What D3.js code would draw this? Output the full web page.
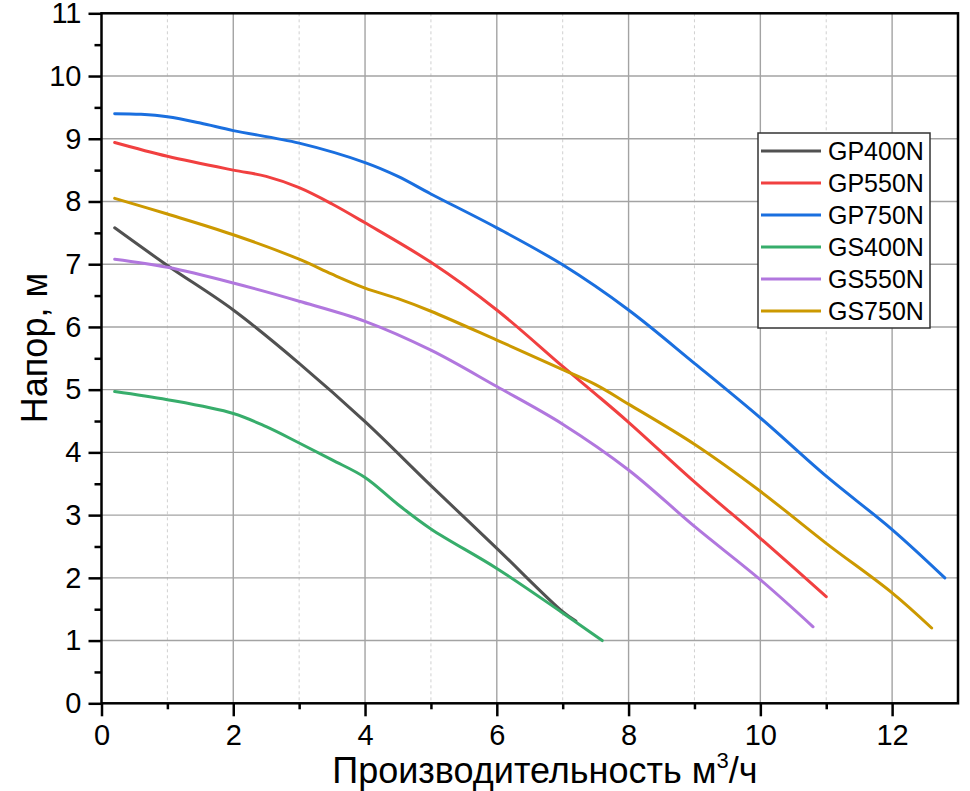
<!DOCTYPE html>
<meta charset="utf-8">
<style>
body { margin: 0; background: #fff; }
text { font-family: "Liberation Sans", Arial, sans-serif; fill: #000; }
.grid line { stroke: #a3a3a3; stroke-width: 1.4px; }
.grid .minor { stroke: #d0d0d0; stroke-dasharray: 3,3; stroke-width: 1px; }
.axis path, .axis line { stroke: #000; stroke-width: 2.5px; }
.axis text { font-size: 29px; }
.line { fill: none; stroke-width: 3px; stroke-linejoin: round; stroke-linecap: round; }
</style>
<body>
<script src="https://d3js.org/d3.v7.min.js"></script>
<script>

// series names and colours
var names = ["GP400N", "GP550N", "GP750N", "GS400N", "GS550N", "GS750N"];
var colors = ["#515151", "#F14040", "#1A6FDF", "#37AD6B", "#B177DE", "#CC9900"];

// flow (m3/h) and head (m)
var gp400x = [0.2, 1, 2, 3, 4, 5, 6, 7, 7.2];
var gp400y = [7.58, 6.98, 6.27, 5.42, 4.49, 3.47, 2.47, 1.46, 1.31];

var gp550x = [0.2, 1, 2, 2.5, 3, 3.5, 4, 5, 6, 7, 7.5, 8, 9, 10, 11];
var gp550y = [8.94, 8.72, 8.5, 8.4, 8.22, 7.96, 7.66, 7.03, 6.27, 5.37, 4.93, 4.48, 3.53, 2.63, 1.7];

var gp750x = [0.2, 0.6, 1, 1.5, 2, 3, 4, 4.5, 5, 6, 7, 8, 9, 10, 11, 12, 12.8];
var gp750y = [9.4, 9.39, 9.35, 9.25, 9.13, 8.93, 8.62, 8.4, 8.12, 7.58, 6.99, 6.27, 5.42, 4.55, 3.62, 2.77, 2.0];

var gs400x = [0.2, 1, 2, 2.5, 3, 3.5, 4, 4.5, 5, 6, 7, 7.6];
var gs400y = [4.97, 4.84, 4.62, 4.41, 4.15, 3.88, 3.6, 3.17, 2.78, 2.15, 1.44, 1.0];

var gs550x = [0.2, 1, 2, 3, 4, 5, 6, 7, 8, 9, 10, 10.8];
var gs550y = [7.08, 6.95, 6.7, 6.41, 6.09, 5.63, 5.05, 4.45, 3.72, 2.82, 1.97, 1.22];

var gs750x = [0.2, 1, 2, 3, 3.5, 4, 4.5, 5, 6, 7, 7.5, 8, 9, 10, 11, 12, 12.6];
var gs750y = [8.05, 7.8, 7.47, 7.08, 6.84, 6.62, 6.45, 6.25, 5.79, 5.32, 5.08, 4.77, 4.13, 3.38, 2.55, 1.76, 1.2];

var xTicks = [0, 2, 4, 6, 8, 10, 12];
var xMinor = [1, 3, 5, 7, 9, 11];
var yTicks = [0, 1, 2, 3, 4, 5, 6, 7, 8, 9, 10, 11];
var yMinor = [0.5, 1.5, 2.5, 3.5, 4.5, 5.5, 6.5, 7.5, 8.5, 9.5, 10.5];

var seriesX = [gp400x, gp550x, gp750x, gs400x, gs550x, gs750x];
var seriesY = [gp400y, gp550y, gp750y, gs400y, gs550y, gs750y];

var margin = {top: 13.3, right: 12, bottom: 87.7, left: 101.5},
    width = 970 - margin.left - margin.right,
    height = 791 - margin.top - margin.bottom;

var x = d3.scaleLinear().domain([0, 13]).range([0, width]);
var y = d3.scaleLinear().domain([0, 11]).range([height, 0]);

var svg = d3.select("body").append("svg")
    .attr("width", 970)
    .attr("height", 791)
  .append("g")
    .attr("transform", "translate(" + margin.left + "," + margin.top + ")");

// grid
var grid = svg.append("g").attr("class", "grid");
grid.selectAll(".vmin").data(xMinor).enter().append("line")
    .attr("class", "minor")
    .attr("x1", function(d) { return x(d); }).attr("x2", function(d) { return x(d); })
    .attr("y1", 0).attr("y2", height);
grid.selectAll(".vmaj").data(xTicks.filter(function(d) { return d > 0; })).enter().append("line")
    .attr("x1", function(d) { return x(d); }).attr("x2", function(d) { return x(d); })
    .attr("y1", 0).attr("y2", height);
grid.selectAll(".hmaj").data(yTicks.filter(function(d) { return d > 0 && d < 11; })).enter().append("line")
    .attr("x1", 0).attr("x2", width)
    .attr("y1", function(d) { return y(d); }).attr("y2", function(d) { return y(d); });

// curves
var line = d3.line()
    .x(function(d) { return x(d[0]); })
    .y(function(d) { return y(d[1]); })
    .curve(d3.curveCatmullRom.alpha(0.5));

names.forEach(function(n, i) {
  var pts = seriesX[i].map(function(v, j) { return [v, seriesY[i][j]]; });
  svg.append("path")
      .datum(pts)
      .attr("class", "line")
      .attr("stroke", colors[i])
      .attr("d", line);
});

// frame
svg.append("rect")
    .attr("width", width).attr("height", height)
    .attr("fill", "none").attr("stroke", "#000").attr("stroke-width", 2.5);

// axes
svg.append("g").attr("class", "axis")
    .attr("transform", "translate(0," + height + ")")
    .call(d3.axisBottom(x).tickValues(xTicks).tickSize(13).tickSizeOuter(0).tickPadding(8));
svg.append("g").attr("class", "axis")
    .attr("transform", "translate(0," + height + ")")
    .call(d3.axisBottom(x).tickValues(xMinor).tickSize(6).tickSizeOuter(0).tickFormat(""));

svg.append("g").attr("class", "axis")
    .call(d3.axisLeft(y).tickValues(yTicks).tickSize(13).tickSizeOuter(0).tickPadding(7));
svg.append("g").attr("class", "axis")
    .call(d3.axisLeft(y).tickValues(yMinor).tickSize(7).tickSizeOuter(0).tickFormat(""));

svg.selectAll(".axis .domain").remove();
svg.selectAll(".axis text").attr("fill", "#000");

// axis titles
var xt = svg.append("text")
    .attr("x", x(6.73)).attr("y", height + 80)
    .style("font-size", "36px")
    .attr("text-anchor", "middle");
xt.append("tspan").text("Производительность м");
xt.append("tspan").style("font-size", "22px").attr("dy", -15).text("3");
xt.append("tspan").attr("dy", 15).text("/ч");

svg.append("text")
    .attr("transform", "translate(" + (-55) + "," + (348 - margin.top) + ") rotate(-90)")
    .attr("text-anchor", "middle")
    .style("font-size", "36px")
    .text("Напор, м");

// legend
var lg = svg.append("g").attr("transform", "translate(" + (758 - margin.left) + "," + (133 - margin.top) + ")");
lg.append("rect")
    .attr("width", 172).attr("height", 195)
    .attr("fill", "#fff").attr("stroke", "#333").attr("stroke-width", 1.5);
names.forEach(function(n, i) {
  var ry = 18 + i * 32;
  lg.append("line")
      .attr("x1", 3).attr("x2", 63)
      .attr("y1", ry).attr("y2", ry)
      .attr("stroke", colors[i]).attr("stroke-width", 3);
  lg.append("text")
      .attr("x", 70).attr("y", ry + 9)
      .style("font-size", "25px")
      .text(n);
});

</script>
</body>
